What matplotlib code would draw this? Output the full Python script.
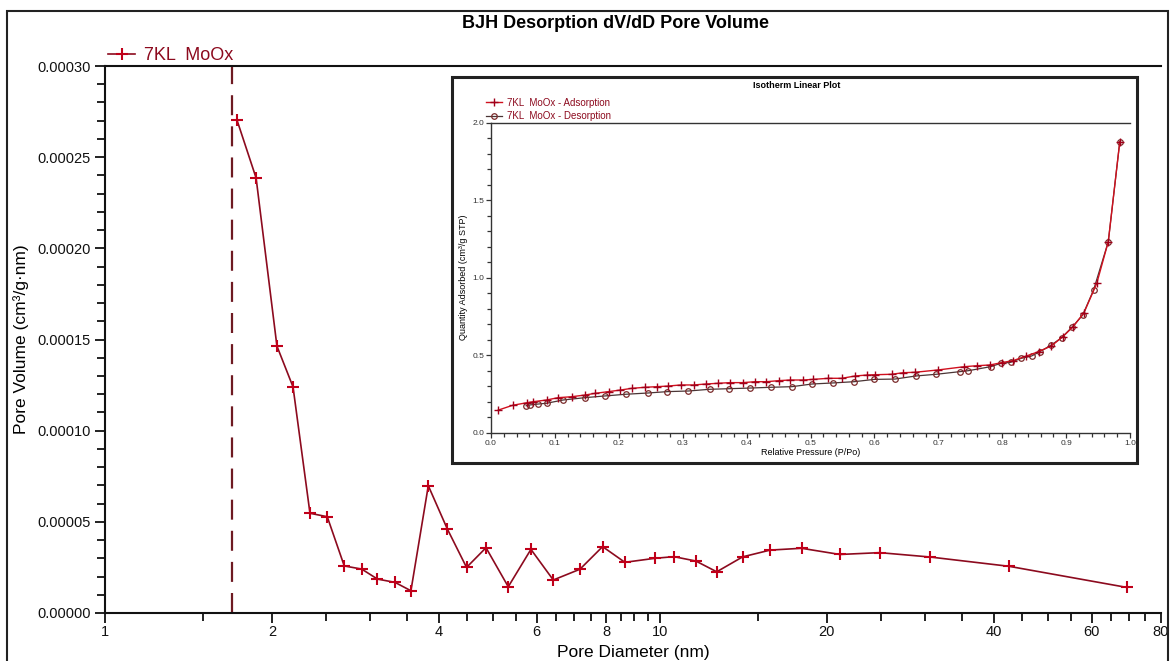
import matplotlib
matplotlib.use("Agg")
import matplotlib.pyplot as plt
from matplotlib.patches import Rectangle
from matplotlib.ticker import FixedLocator, NullFormatter, FuncFormatter

plt.rcParams['font.family'] = ['Liberation Sans', 'DejaVu Sans']

# BJH desorption dV/dD pore volume
pore_diameter = [1.729, 1.872, 2.041, 2.182, 2.341, 2.515, 2.699, 2.901, 3.098, 3.331,
                 3.559, 3.825, 4.139, 4.483, 4.860, 5.330, 5.856, 6.425, 7.176, 7.884,
                 8.648, 9.795, 10.60, 11.61, 12.66, 14.10, 15.80, 18.00, 21.10, 24.90,
                 30.70, 42.60, 69.50]
pore_volume = [2.704e-4, 2.386e-4, 1.464e-4, 1.240e-4, 5.47e-5, 5.28e-5, 2.58e-5, 2.41e-5,
               1.86e-5, 1.68e-5, 1.22e-5, 6.98e-5, 4.61e-5, 2.50e-5, 3.58e-5, 1.44e-5,
               3.49e-5, 1.81e-5, 2.40e-5, 3.64e-5, 2.78e-5, 3.00e-5, 3.09e-5, 2.85e-5,
               2.26e-5, 3.08e-5, 3.45e-5, 3.55e-5, 3.21e-5, 3.31e-5, 3.07e-5, 2.56e-5,
               1.40e-5]
cutoff_diameter = 1.694

x_major = [1, 2, 4, 6, 8, 10, 20, 40, 60, 80]
x_minor = [1.5, 2.5, 3, 3.5, 4.5, 5, 5.5, 6.5, 7, 7.5, 8.5, 9, 9.5,
           15, 25, 30, 35, 45, 50, 55, 65, 70, 75]

# Isotherm (inset)
ads_p = [0.0115, 0.034, 0.057, 0.066, 0.087, 0.105, 0.126, 0.147, 0.163, 0.184,
         0.202, 0.220, 0.241, 0.260, 0.277, 0.297, 0.317, 0.336, 0.356, 0.374,
         0.394, 0.413, 0.431, 0.451, 0.468, 0.489, 0.504, 0.528, 0.549, 0.570,
         0.588, 0.601, 0.627, 0.645, 0.664, 0.700, 0.741, 0.760, 0.781, 0.799,
         0.817, 0.838, 0.857, 0.877, 0.895, 0.911, 0.928, 0.948, 0.966, 0.984]
ads_q = [0.146, 0.177, 0.194, 0.200, 0.211, 0.226, 0.232, 0.243, 0.254, 0.265,
         0.275, 0.286, 0.293, 0.297, 0.301, 0.308, 0.308, 0.314, 0.319, 0.323,
         0.323, 0.329, 0.329, 0.336, 0.340, 0.340, 0.344, 0.351, 0.351, 0.366,
         0.372, 0.374, 0.377, 0.387, 0.390, 0.405, 0.426, 0.432, 0.437, 0.452,
         0.465, 0.495, 0.523, 0.560, 0.620, 0.684, 0.774, 0.964, 1.232, 1.877]
des_p = [0.055, 0.061, 0.074, 0.087, 0.113, 0.147, 0.178, 0.211, 0.245, 0.276,
         0.309, 0.342, 0.373, 0.405, 0.438, 0.471, 0.502, 0.535, 0.568, 0.600,
         0.632, 0.665, 0.697, 0.734, 0.747, 0.782, 0.798, 0.813, 0.830, 0.846,
         0.859, 0.877, 0.893, 0.910, 0.926, 0.943, 0.966, 0.984]
des_q = [0.174, 0.179, 0.185, 0.190, 0.211, 0.226, 0.237, 0.248, 0.256, 0.265,
         0.269, 0.280, 0.284, 0.288, 0.293, 0.297, 0.314, 0.321, 0.329, 0.344,
         0.346, 0.366, 0.377, 0.394, 0.400, 0.426, 0.448, 0.454, 0.480, 0.495,
         0.523, 0.566, 0.613, 0.684, 0.759, 0.921, 1.232, 1.877]

RED = '#c0001a'
DARKRED = '#8c0a1e'
W, H = 1173, 661

fig = plt.figure(figsize=(W / 100, H / 100), dpi=100)

# outer frame
fig.add_artist(Rectangle((7 / W, -0.01), 1161 / W, 1 - 11 / H + 0.01, transform=fig.transFigure,
                         fill=False, edgecolor='#222222', linewidth=1.5))

ax = fig.add_axes([105 / W, 1 - 613 / H, 1056 / W, 547 / H])
ax.plot(pore_diameter, pore_volume, color=DARKRED, linewidth=1.2, marker='+',
        markersize=9, markeredgewidth=1.5, markeredgecolor=RED, label='7KL  MoOx')
ax.axvline(cutoff_diameter, color='#6e1a22', linewidth=1.6, dashes=(9, 5))
ax.set_xscale('log')
ax.set_xlim(1, 80)
ax.set_ylim(0, 0.0003)
ax.xaxis.set_major_locator(FixedLocator(x_major))
ax.xaxis.set_major_formatter(FuncFormatter(lambda v, p: f'{v:g}'))
ax.xaxis.set_minor_locator(FixedLocator(x_minor))
ax.xaxis.set_minor_formatter(NullFormatter())
ax.yaxis.set_major_locator(FixedLocator([0, 5e-5, 1e-4, 1.5e-4, 2e-4, 2.5e-4, 3e-4]))
ax.yaxis.set_minor_locator(FixedLocator([i * 1e-5 for i in range(31)]))
ax.yaxis.set_major_formatter(FuncFormatter(lambda v, p: f'{v:.5f}'))
ax.spines['right'].set_visible(False)
for s in ['left', 'bottom', 'top']:
    ax.spines[s].set_linewidth(1.5)
    ax.spines[s].set_color('#111111')
ax.tick_params(which='both', direction='out', width=1.3, labelsize=10.5, colors='#111111')
ax.tick_params(which='major', length=7)
ax.tick_params(which='minor', length=6)
ax.tick_params(axis='x', pad=2)
ax.set_xlabel('Pore Diameter (nm)', fontsize=12.5, labelpad=4)
ax.set_ylabel('Pore Volume (cm³/g·nm)', fontsize=12.5, labelpad=6)
ax.legend(loc='lower left', bbox_to_anchor=(108 / W, 1 - 64 / H), bbox_transform=fig.transFigure,
          frameon=False, fontsize=13, handlelength=1.5, handletextpad=0.5, borderpad=0,
          borderaxespad=0, labelcolor=DARKRED)
fig.text(615 / W, 1 - 24 / H, 'BJH Desorption dV/dD Pore Volume', ha='center', va='center',
         fontsize=13, fontweight='bold', family=['Liberation Sans Narrow', 'Liberation Sans'])

# inset frame
fig.add_artist(Rectangle((452 / W, 1 - 463 / H), 685 / W, 386 / H, transform=fig.transFigure,
                         facecolor='white', edgecolor='#222222', linewidth=2.2, zorder=3))

ins = fig.add_axes([491 / W, 1 - 432.7 / H, 639 / W, 310 / H], zorder=4)
ins.plot(des_p, des_q, color='#4a3535', linewidth=0.9, marker='o', markersize=4,
         markerfacecolor='none', markeredgecolor='#7a2a2a', markeredgewidth=0.9,
         label='7KL  MoOx - Desorption')
ins.plot(ads_p, ads_q, color='#d0101e', linewidth=1.0, marker='+', markersize=6,
         markeredgewidth=1.0, markeredgecolor='#a0001a', label='7KL  MoOx - Adsorption')
ins.set_xlim(0, 1.0)
ins.set_ylim(0, 2.0)
ins.xaxis.set_major_locator(FixedLocator([i / 10 for i in range(11)]))
ins.xaxis.set_minor_locator(FixedLocator([i / 50 for i in range(51)]))
ins.yaxis.set_major_locator(FixedLocator([0, 0.5, 1.0, 1.5, 2.0]))
ins.yaxis.set_minor_locator(FixedLocator([i / 10 for i in range(21)]))
ins.xaxis.set_major_formatter(FuncFormatter(lambda v, p: f'{v:.1f}'))
ins.yaxis.set_major_formatter(FuncFormatter(lambda v, p: f'{v:.1f}'))
ins.spines['right'].set_visible(False)
for s in ['left', 'bottom', 'top']:
    ins.spines[s].set_linewidth(1.0)
    ins.spines[s].set_color('#333333')
ins.tick_params(which='both', direction='out', width=0.9, labelsize=6, colors='#333333', pad=1.5)
ins.tick_params(which='major', length=3.5)
ins.tick_params(which='minor', length=3)
ins.set_xlabel('Relative Pressure (P/Po)', fontsize=6.5, labelpad=1)
ins.set_ylabel('Quantity Adsorbed (cm³/g STP)', fontsize=6.5, labelpad=3)
handles, labels = ins.get_legend_handles_labels()
ins.legend(handles[::-1], labels[::-1], loc='lower left', bbox_to_anchor=(486 / W, 1 - 121 / H),
           bbox_transform=fig.transFigure, frameon=False, fontsize=7, handlelength=1.6,
           borderpad=0, borderaxespad=0, labelspacing=0.35, handletextpad=0.6,
           labelcolor=DARKRED)
fig.text(797 / W, 1 - 86 / H, 'Isotherm Linear Plot', ha='center', va='center',
         fontsize=6.5, fontweight='bold', zorder=5)

fig.savefig('out.png', dpi=100)
